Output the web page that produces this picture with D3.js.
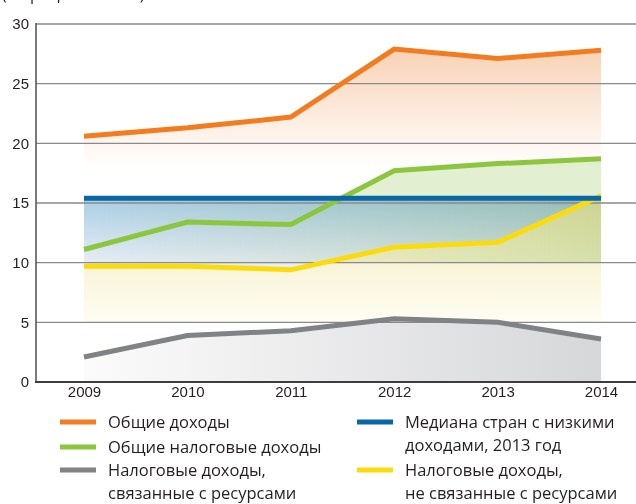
<!DOCTYPE html>
<html>
<head>
<meta charset="utf-8">
<script src="https://d3js.org/d3.v7.min.js"></script>
<style>
  body { margin:0; background:#fff; }
  .tick text { font: 15px "Liberation Sans", Arial, sans-serif; fill:#231f20; }
  .legend text { font: 16.5px "Open Sans", sans-serif; fill:#231f20; }
</style>
</head>
<body>
<script>
var years = [2009, 2010, 2011, 2012, 2013, 2014];
var totalRevenue = [20.6, 21.3, 22.2, 27.9, 27.1, 27.8];
var totalTax = [11.1, 13.4, 13.2, 17.7, 18.3, 18.7];
var resourceTax = [2.1, 3.9, 4.3, 5.3, 5.0, 3.6];
var nonResourceTax = [9.7, 9.7, 9.4, 11.3, 11.7, 15.6];
var lowIncomeMedian = [15.4, 15.4, 15.4, 15.4, 15.4, 15.4];
var yTicks = [0, 5, 10, 15, 20, 25, 30];

var W = 636, H = 504;
var svg = d3.select("body").append("svg").attr("width", W).attr("height", H);

var x = d3.scaleLinear().domain([2009, 2014]).range([84, 601]);
var y = d3.scaleLinear().domain([0, 30]).range([382, 24]);

var defs = svg.append("defs");
function vgrad(id, v0, v1, stops) {
  var g = defs.append("linearGradient").attr("id", id)
    .attr("gradientUnits", "userSpaceOnUse")
    .attr("x1", 0).attr("x2", 0).attr("y1", y(v0)).attr("y2", y(v1));
  stops.forEach(function(s) { g.append("stop").attr("offset", s[0]).attr("stop-color", s[1]).attr("stop-opacity", s[2] == null ? 1 : s[2]); });
}
function hgrad(id, stops) {
  var g = defs.append("linearGradient").attr("id", id)
    .attr("gradientUnits", "userSpaceOnUse")
    .attr("x1", x(2009)).attr("x2", x(2014)).attr("y1", 0).attr("y2", 0);
  stops.forEach(function(s) { g.append("stop").attr("offset", s[0]).attr("stop-color", s[1]).attr("stop-opacity", s[2] == null ? 1 : s[2]); });
}
vgrad("gOrange", 28, 18, [[0, "#f8d2b4"], [1, "#ffffff"]]);
vgrad("gBlue", 15.4, 10, [[0, "#abcee5"], [1, "#e6edf6"]]);
vgrad("gYellow", 15.5, 5, [[0, "#ece8b4"], [0.45, "#f6f3d2"], [1, "#fffdf3"]]);
hgrad("gGray", [[0, "#fbfbfb"], [1, "#d6d7d9"]]);
hgrad("gGreenLow", [[0, "#e6efd4", 0], [0.5, "#e6efd4", 0.6], [1, "#dde9cc", 1]]);

// keep upper green fill above the median line only
defs.append("clipPath").attr("id", "aboveMedian")
  .append("rect").attr("x", 0).attr("y", 0).attr("width", W).attr("height", y(lowIncomeMedian[0]));

var rows = years.map(function(yr, i) {
  return { year: yr, total: totalRevenue[i], tax: totalTax[i], res: resourceTax[i], nonres: nonResourceTax[i], med: lowIncomeMedian[i] };
});

// title, cut off at the top like the source
svg.append("text").attr("x", 2).attr("y", 0)
  .style("font", "16px 'Open Sans', sans-serif").attr("fill", "#231f20")
  .text("(в процентах ВВП)");

var areas = svg.append("g").style("isolation", "isolate");
function addArea(fill, top, bottom, clip) {
  var p = areas.append("path").datum(rows)
    .attr("fill", fill)
    .style("mix-blend-mode", "multiply")
    .attr("d", d3.area().x(function(d) { return x(d.year); }).y0(bottom).y1(top));
  if (clip) p.attr("clip-path", "url(#" + clip + ")");
}
addArea("url(#gGray)", function(d) { return y(d.res); }, function() { return y(0); });
addArea("url(#gYellow)", function(d) { return y(d.nonres); }, function() { return y(5); });
addArea("url(#gBlue)", function(d) { return y(d.med); }, function(d) { return y(d.nonres); });
addArea("#e2efd0", function(d) { return y(d.tax); }, function(d) { return y(d.med); }, "aboveMedian");
addArea("url(#gGreenLow)", function(d) { return y(d.med); }, function() { return y(10); });
addArea("url(#gOrange)", function(d) { return y(d.total); }, function() { return y(18); });

// grid
svg.append("g").selectAll("line").data(yTicks.filter(function(t) { return t > 0; }))
  .join("line")
  .attr("x1", 36).attr("x2", W)
  .attr("y1", function(d) { return y(d); }).attr("y2", function(d) { return y(d); })
  .attr("stroke", "#8a8a8c").attr("stroke-width", 1.4);

// y axis
var gy = svg.append("g").attr("transform", "translate(36,0)")
  .call(d3.axisLeft(y).tickValues(yTicks).tickSize(0).tickPadding(7));
gy.select(".domain").remove();
svg.append("line").attr("x1", 36).attr("x2", 36).attr("y1", y(30) - 1).attr("y2", y(0))
  .attr("stroke", "#58595b").attr("stroke-width", 1.6);

// x axis
var gx = svg.append("g").attr("transform", "translate(0," + y(0) + ")")
  .call(d3.axisBottom(x).tickValues(years).tickFormat(d3.format("d")).tickSize(0).tickPadding(4));
gx.select(".domain").remove();
svg.append("line").attr("x1", 35).attr("x2", W).attr("y1", y(0)).attr("y2", y(0))
  .attr("stroke", "#3d3d3f").attr("stroke-width", 2);

// lines
var series = [
  { key: "res", color: "#808285" },
  { key: "nonres", color: "#fbdc0a" },
  { key: "tax", color: "#8cc63f" },
  { key: "med", color: "#0868a6" },
  { key: "total", color: "#f47c20" }
];
var lineG = svg.append("g");
series.forEach(function(s) {
  lineG.append("path").datum(rows)
    .attr("fill", "none").attr("stroke", s.color).attr("stroke-width", 5)
    .attr("stroke-linejoin", "miter")
    .attr("d", d3.line().x(function(d) { return x(d.year); }).y(function(d) { return y(d[s.key]); }));
});

// legend
var legendItems = [
  { color: "#f47c20", lines: ["Общие доходы"], x: 60, y: 422 },
  { color: "#8cc63f", lines: ["Общие налоговые доходы"], x: 60, y: 447 },
  { color: "#808285", lines: ["Налоговые доходы,", "связанные с ресурсами"], x: 60, y: 470 },
  { color: "#0868a6", lines: ["Медиана стран с низкими", "доходами, 2013 год"], x: 357, y: 422 },
  { color: "#fbdc0a", lines: ["Налоговые доходы,", "не связанные с ресурсами"], x: 357, y: 470 }
];
var lg = svg.append("g").attr("class", "legend");
legendItems.forEach(function(it) {
  lg.append("rect").attr("x", it.x).attr("y", it.y - 2.5).attr("width", 36).attr("height", 5).attr("fill", it.color);
  it.lines.forEach(function(t, j) {
    lg.append("text").attr("x", it.x + 48).attr("y", it.y + 6 + j * 23).text(t);
  });
});
</script>
</body>
</html>
